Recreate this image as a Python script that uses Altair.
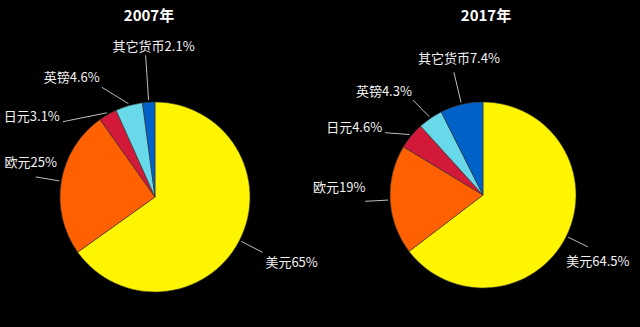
import altair as alt
import pandas as pd

# ---- data ----
years = ["2007年", "2017年"]
currencies = ["美元", "欧元", "日元", "英镑", "其它货币"]
shares_2007 = [65, 25, 3.1, 4.6, 2.1]
shares_2017 = [64.5, 19, 4.6, 4.3, 7.4]
colors = ["#FFF500", "#FF6000", "#D2193A", "#68D9E8", "#0062C9"]

rows = []
for year, shares in zip(years, [shares_2007, shares_2017]):
    total = sum(shares)
    cum = 0.0
    for cur, v in zip(currencies, shares):
        rows.append(dict(year=year, currency=cur, value=v,
                         start=cum / total, end=(cum + v) / total,
                         mid=(cum + v / 2) / total,
                         label=f"{cur}{v:g}%"))
        cum += v
df = pd.DataFrame(rows)
titles_df = pd.DataFrame({"year": years})

# ---- layout (style only) ----
PIES = {"2007年": dict(cx=155, cy=197, r=95, tx=149),
        "2017年": dict(cx=483, cy=195, r=93, tx=486)}
# (leader end radius, bend in degrees, label dx, label dy)
LAYOUT = {
    ("2007年", "美元"): (121, 0, 29, 11),
    ("2007年", "欧元"): (121, 0, -5, -14),
    ("2007年", "日元"): (119, -21, -31, -5),
    ("2007年", "英镑"): (122, -10, -30, -9),
    ("2007年", "其它货币"): (142, 0, 8, -8),
    ("2017年", "美元"): (117, 0, 10, 15),
    ("2017年", "欧元"): (118, 0, -26, -13),
    ("2017年", "日元"): (116, -7, -31, -5),
    ("2017年", "英镑"): (118, -2, -29, -8),
    ("2017年", "其它货币"): (126, 0, 5, -13),
}

FONT = "Noto Sans CJK SC"
base = alt.Chart(df)
theta_scale = alt.Scale(domain=[0, 1])
color = alt.Color("currency:N", scale=alt.Scale(domain=currencies, range=colors), legend=None)

layers = []
for year in years:
    p = PIES[year]
    arc = base.transform_filter(alt.datum.year == year).mark_arc(
        outerRadius=p["r"], stroke="#3a3a3a", strokeWidth=0.6
    ).encode(
        theta=alt.Theta("start:Q", scale=theta_scale),
        theta2="end:Q",
        color=color,
        x=alt.value(p["cx"]),
        y=alt.value(p["cy"]),
    )
    layers.append(arc)
    for cur in currencies:
        r1, bend, dx, dy = LAYOUT[(year, cur)]
        r0 = p["r"] + 2
        sub = base.transform_filter(
            (alt.datum.year == year) & (alt.datum.currency == cur)
        ).transform_calculate(
            a="2*PI*datum.mid",
        ).transform_calculate(
            a2=f"datum.a + {bend}*PI/180",
            lx1=f"{p['cx']} + {r0}*sin(datum.a)",
            ly1=f"{p['cy']} - {r0}*cos(datum.a)",
        ).transform_calculate(
            lx2=f"{p['cx']} + {r1}*sin(datum.a2)",
            ly2=f"{p['cy']} - {r1}*cos(datum.a2)",
        ).transform_calculate(
            tx=f"datum.lx2 + {dx}",
            ty=f"datum.ly2 + {dy}",
        )
        rule = sub.mark_rule(color="#bdbdbd", strokeWidth=1).encode(
            x=alt.X("lx1:Q", scale=None, axis=None),
            y=alt.Y("ly1:Q", scale=None, axis=None),
            x2="lx2:Q",
            y2="ly2:Q",
        )
        text = sub.mark_text(
            font=FONT, fontSize=13, color="#f2f2f2", align="center", baseline="middle"
        ).encode(
            x=alt.X("tx:Q", scale=None, axis=None),
            y=alt.Y("ty:Q", scale=None, axis=None),
            text="label:N",
        )
        layers += [rule, text]
    title = alt.Chart(titles_df).transform_filter(alt.datum.year == year).mark_text(
        font=FONT, fontSize=15, fontWeight="bold", color="white",
        align="center", baseline="middle"
    ).encode(x=alt.value(p["tx"]), y=alt.value(16), text="year:N")
    layers.append(title)

chart = alt.layer(*layers).properties(
    width=640, height=327, background="black", padding=0,
    autosize=alt.AutoSizeParams(type="none"),
).configure_view(stroke=None)

chart.save("out.html", embed_options={"renderer": "svg", "actions": False})
